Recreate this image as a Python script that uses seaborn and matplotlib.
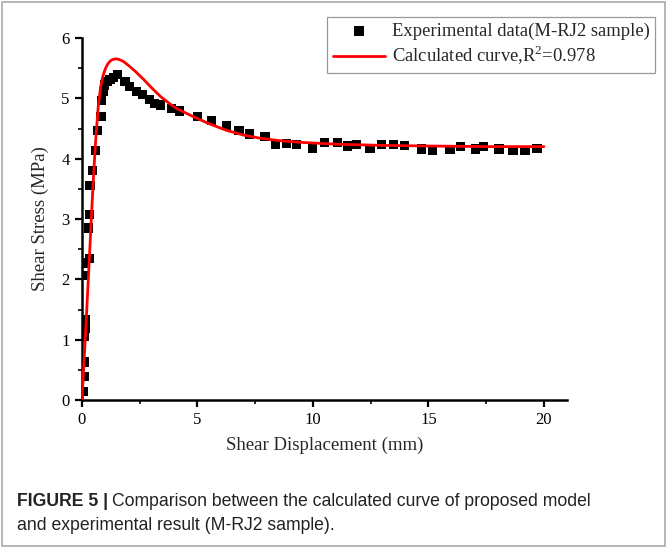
import matplotlib
matplotlib.use("Agg")
import matplotlib.pyplot as plt
import seaborn as sns
import pandas as pd
from matplotlib.patches import Rectangle

# Experimental data (M-RJ2 sample)
exp_disp = [0.08, 0.12, 0.12, 0.12, 0.15, 0.15, 0.10, 0.13, 0.31, 0.27, 0.32,
            0.35, 0.47, 0.58, 0.67, 0.82, 0.85, 0.92, 0.99, 1.09, 1.21, 1.36, 1.53,
            1.86, 2.07, 2.36, 2.62, 2.91, 3.15, 3.40, 3.87, 4.23, 5.00, 5.60,
            6.25, 6.80, 7.26, 7.92, 8.38, 8.86, 9.30, 9.99, 10.50, 11.07, 11.50,
            11.90, 12.47, 12.97, 13.49, 13.97, 14.70, 15.18, 15.93, 16.40, 17.05,
            17.40, 18.06, 18.66, 19.18, 19.70]
exp_stress = [0.14, 0.39, 0.63, 1.05, 1.19, 1.33, 2.07, 2.27, 2.35, 2.85, 3.07,
              3.55, 3.81, 4.14, 4.47, 4.70, 4.97, 5.11, 5.22, 5.28, 5.31, 5.35, 5.39,
              5.28, 5.19, 5.11, 5.06, 4.98, 4.92, 4.89, 4.83, 4.79, 4.70, 4.63,
              4.55, 4.47, 4.41, 4.37, 4.24, 4.25, 4.23, 4.17, 4.27, 4.27, 4.21,
              4.23, 4.17, 4.24, 4.24, 4.22, 4.16, 4.14, 4.15, 4.20, 4.16,
              4.20, 4.16, 4.13, 4.13, 4.17]

# Calculated curve
calc_disp = [0.0, 0.1, 0.2, 0.3, 0.4, 0.5, 0.6, 0.7, 0.8, 0.9, 1.0, 1.1, 1.2, 1.3,
             1.45, 1.6, 1.8, 2.0, 2.3, 2.65, 3.0, 3.4, 3.8, 4.1, 4.8, 5.5, 6.25,
             7.0, 7.7, 8.5, 9.5, 11.0, 13.0, 15.0, 17.5, 20.0]
calc_stress = [0.0, 0.72, 1.45, 2.2, 2.98, 3.72, 4.35, 4.85, 5.17, 5.36, 5.48,
               5.56, 5.61, 5.64, 5.655, 5.645, 5.61, 5.55, 5.45, 5.32, 5.18, 5.03,
               4.91, 4.83, 4.70, 4.58, 4.47, 4.39, 4.34, 4.30, 4.27, 4.24, 4.22,
               4.21, 4.20, 4.20]

sns.set_theme(style="ticks")
plt.rcParams["font.family"] = ["Liberation Serif", "DejaVu Serif"]
plt.rcParams["mathtext.fontset"] = "custom"
plt.rcParams["mathtext.rm"] = "Liberation Serif"

fig = plt.figure(figsize=(6.67, 5.48), dpi=100)
ax = fig.add_axes([82/667, 1 - 400/548, (567-82)/667, (400-38)/548])

df_exp = pd.DataFrame({"x": exp_disp, "y": exp_stress})
df_calc = pd.DataFrame({"x": calc_disp, "y": calc_stress})

sns.scatterplot(data=df_exp, x="x", y="y", marker="s", s=44, color="black",
                edgecolor="none", ax=ax, zorder=2,
                label="Experimental data(M-RJ2 sample)")
sns.lineplot(data=df_calc, x="x", y="y", color="#ff0000", linewidth=2.0,
             sort=False, estimator=None, ax=ax, zorder=3,
             label="Calculated curve,R$^2$=0.978")

ax.set_xlim(0, 21)
ax.set_ylim(0, 6)
ax.set_xticks([0, 5, 10, 15, 20])
ax.set_yticks([0, 1, 2, 3, 4, 5, 6])
ax.set_xticks([2.5, 7.5, 12.5, 17.5], minor=True)
ax.set_yticks([0.5, 1.5, 2.5, 3.5, 4.5, 5.5], minor=True)
ax.tick_params(axis="both", which="major", direction="out", length=5, width=1.6,
               labelsize=12, colors="black", pad=4)
ax.tick_params(axis="both", which="minor", direction="out", length=3, width=1.4)
for side in ["left", "bottom"]:
    ax.spines[side].set_linewidth(1.8)
    ax.spines[side].set_color("black")
for side in ["top", "right"]:
    ax.spines[side].set_visible(False)

ax.set_xlabel("Shear Displacement (mm)", fontsize=13.5, labelpad=6)
ax.set_ylabel("Shear Stress (MPa)", fontsize=13.5, labelpad=9)

handles, labels = ax.get_legend_handles_labels()
ax.get_legend().remove()
leg = fig.legend(handles, labels, loc="upper right",
                 bbox_to_anchor=(655/667, 1 - 17/548), fontsize=13.4,
                 frameon=True, fancybox=False, edgecolor="#808080",
                 borderpad=0.3, handlelength=2.8, handletextpad=0.35,
                 labelspacing=0.2, borderaxespad=0)
leg.get_frame().set_linewidth(0.9)

cap_kw = dict(fontsize=12.7, family=["Liberation Sans", "DejaVu Sans"],
              va="center", color="#222222")
t1 = fig.text(17/667, 1 - 502/548, "FIGURE 5 |", fontweight="bold", **cap_kw)
fig.canvas.draw()
bb = t1.get_window_extent()
x_next = (bb.x1 + 4) / fig.bbox.width
fig.text(x_next, 1 - 502/548,
         "Comparison between the calculated curve of proposed model", **cap_kw)
fig.text(17/667, 1 - 526/548, "and experimental result (M-RJ2 sample).", **cap_kw)

fig.patches.append(Rectangle((0.003, 0.003), 0.994, 0.994, transform=fig.transFigure,
                             fill=False, edgecolor="#aaaaaa", linewidth=1.2))

fig.savefig("out.png", dpi=100)
